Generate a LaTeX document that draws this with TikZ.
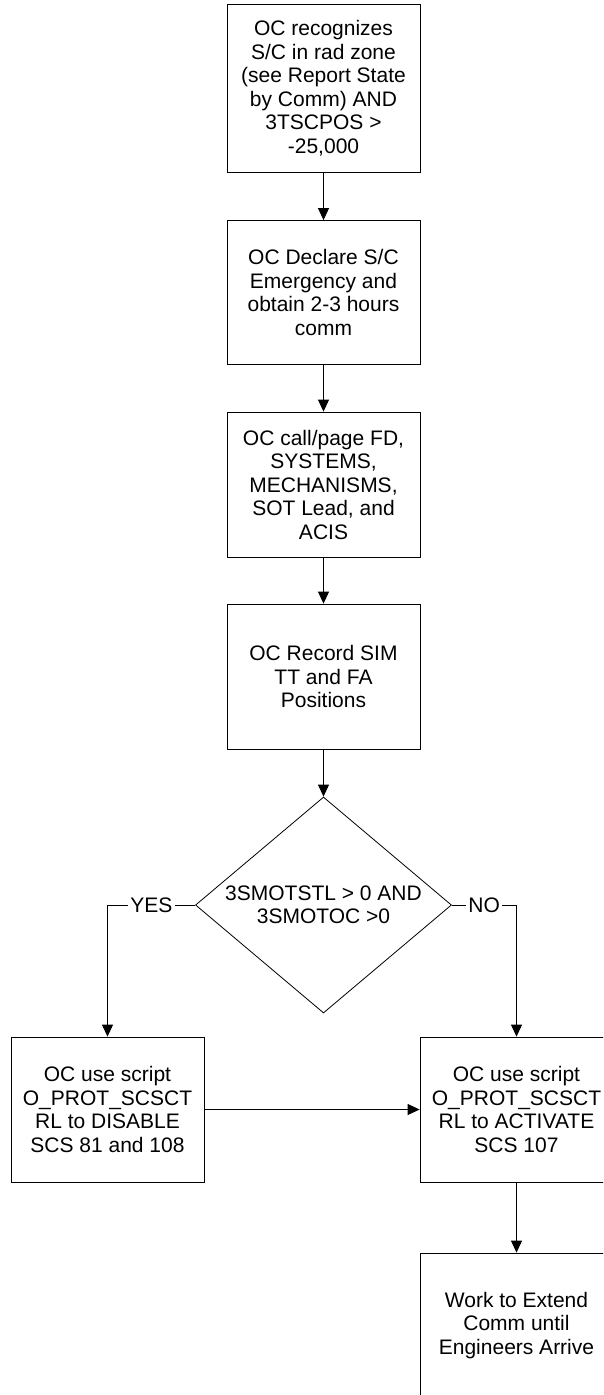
\documentclass[tikz,border=0pt]{standalone}
\usepackage{fontspec}
\setmainfont{Liberation Sans}
\usetikzlibrary{arrows.meta,shapes.geometric}
\tikzset{
  box/.style={draw=black, line width=0.8pt, minimum width=193pt, minimum height=145pt,
    inner sep=0pt, align=center, font=\fontsize{21}{23.5}\selectfont},
  decision/.style={draw=black, line width=0.8pt, shape=diamond, minimum width=256pt,
    minimum height=216pt, inner sep=0pt},
  dtext/.style={align=center, inner sep=0pt, font=\fontsize{21}{23.5}\selectfont},
  conn/.style={line width=0.8pt, -{Triangle[length=12pt,width=11pt]}},
  lbl/.style={fill=white, inner sep=2.5pt, font=\fontsize{21}{23.5}\selectfont}
}
\begin{document}
\begin{tikzpicture}[x=1pt,y=-1pt]
\useasboundingbox (0,0) rectangle (603,1395);
\clip (0,0) rectangle (603,1395);
\node[box, minimum height=168pt] (b1) at (323.5,88) {OC recognizes\\S/C in rad zone\\(see Report State\\by Comm) AND\\3TSCPOS >\\-25,000};
\node[box, minimum height=144pt] (b2) at (323.5,292.5) {OC Declare S/C\\Emergency and\\obtain 2-3 hours\\comm};
\node[box] (b3) at (323.5,484.5) {OC call/page FD,\\SYSTEMS,\\MECHANISMS,\\SOT Lead, and\\ACIS};
\node[box] (b4) at (323.5,676.5) {OC Record SIM\\TT and FA\\Positions};
\node[decision] (d) at (323.5,905) {};
\node[dtext] (dt) at (d.center) {3SMOTSTL > 0 AND\\3SMOTOC >0};
\node[box] (b5) at (107.5,1109.5) {OC use script\\O\_PROT\_SCSCT\\RL to DISABLE\\SCS 81 and 108};
\node[box] (b6) at (516.5,1109.5) {OC use script\\O\_PROT\_SCSCT\\RL to ACTIVATE\\SCS 107};
\node[box] (b7) at (516.5,1325.5) {Work to Extend\\Comm until\\Engineers Arrive};
\draw[conn] (b1.south) -- (b2.north);
\draw[conn] (b2.south) -- (b3.north);
\draw[conn] (b3.south) -- (b4.north);
\draw[conn] (b4.south) -- (d.north);
\draw[conn] (d.west) -- node[lbl] (yes) {YES} (b5.north |- d.west) -- (b5.north);
\draw[conn] (d.east) -- node[lbl] (no) {NO} (b6.north |- d.east) -- (b6.north);
\draw[conn] (b5.east) -- (b6.west);
\draw[conn] (b6.south) -- (b7.north);
\end{tikzpicture}
\end{document}
